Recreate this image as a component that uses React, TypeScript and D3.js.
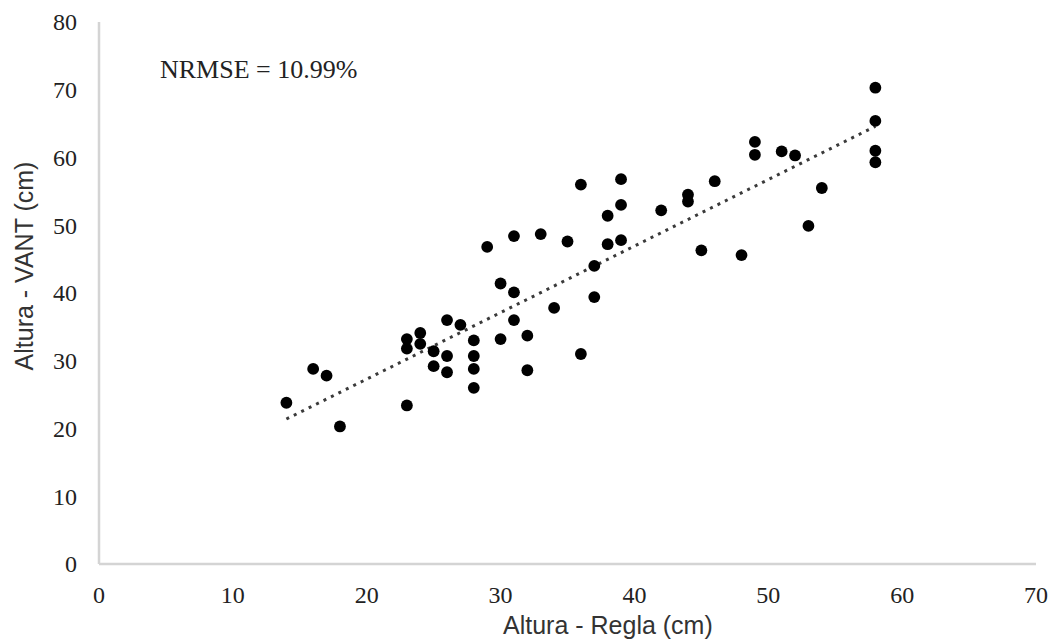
import { useEffect, useRef } from "react";
import * as d3 from "d3";

// Altura - Regla (cm)
const reglaCm: number[] = [
  14, 16, 17, 18, 23, 23, 23, 24, 24, 25, 25, 26, 26, 26, 27, 28, 28, 28, 28,
  29, 30, 30, 31, 31, 31, 32, 32, 33, 34, 35, 36, 36, 37, 37, 38, 38, 39, 39,
  39, 42, 44, 44, 45, 46, 48, 49, 49, 51, 52, 53, 54, 58, 58, 58, 58,
];
// Altura - VANT (cm)
const vantCm: number[] = [
  23.8, 28.8, 27.8, 20.3, 23.4, 33.2, 31.8, 34.1, 32.5, 31.4, 29.2, 36.0, 30.7,
  28.3, 35.3, 33.0, 30.7, 28.8, 26.0, 46.8, 41.4, 33.2, 48.4, 40.1, 36.0, 33.7,
  28.6, 48.7, 37.8, 47.6, 56.0, 31.0, 44.0, 39.4, 51.4, 47.2, 56.8, 53.0, 47.8,
  52.2, 54.5, 53.5, 46.3, 56.5, 45.6, 62.3, 60.4, 60.9, 60.3, 49.9, 55.5, 70.3,
  65.4, 61.0, 59.3,
];
// linear trend line at its two ends
const trendX: number[] = [14, 58];
const trendY: number[] = [21.4, 64.6];
const xTicks: number[] = [0, 10, 20, 30, 40, 50, 60, 70];
const yTicks: number[] = [0, 10, 20, 30, 40, 50, 60, 70, 80];
const annotation = "NRMSE = 10.99%";

const W = 1055;
const H = 643;

export default function App() {
  const ref = useRef<SVGSVGElement>(null);

  useEffect(() => {
    const svg = d3.select(ref.current);
    svg.selectAll("*").remove();
    const margin = { top: 22, right: 19, bottom: 79, left: 99 };
    const w = W - margin.left - margin.right;
    const h = H - margin.top - margin.bottom;
    const serif = "'Liberation Serif', 'Times New Roman', serif";
    const sans = "'Liberation Sans', Arial, sans-serif";

    const x = d3.scaleLinear().domain([0, 70]).range([0, w]);
    const y = d3.scaleLinear().domain([0, 80]).range([h, 0]);

    const g = svg
      .append("g")
      .attr("transform", `translate(${margin.left},${margin.top})`);

    // axis lines (no tick marks in the original)
    g.append("line")
      .attr("x1", 0)
      .attr("x2", 0)
      .attr("y1", y(80))
      .attr("y2", y(0))
      .attr("stroke", "#d4d4d4")
      .attr("stroke-width", 2.5);
    g.append("line")
      .attr("x1", 0)
      .attr("x2", x(70))
      .attr("y1", y(0))
      .attr("y2", y(0))
      .attr("stroke", "#d4d4d4")
      .attr("stroke-width", 2.5);

    g.selectAll("text.ytick")
      .data(yTicks)
      .join("text")
      .attr("class", "ytick")
      .attr("x", -22)
      .attr("y", (d) => y(d))
      .attr("dy", "0.35em")
      .attr("text-anchor", "end")
      .style("font-family", serif)
      .style("font-size", "24px")
      .attr("fill", "#222")
      .text((d) => d);

    g.selectAll("text.xtick")
      .data(xTicks)
      .join("text")
      .attr("class", "xtick")
      .attr("x", (d) => x(d))
      .attr("y", h + 39)
      .attr("text-anchor", "middle")
      .style("font-family", serif)
      .style("font-size", "24px")
      .attr("fill", "#222")
      .text((d) => d);

    g.append("line")
      .attr("x1", x(trendX[0]))
      .attr("y1", y(trendY[0]))
      .attr("x2", x(trendX[1]))
      .attr("y2", y(trendY[1]))
      .attr("stroke", "#3a3a3a")
      .attr("stroke-width", 3)
      .attr("stroke-dasharray", "3 5.3");

    const pts = reglaCm.map((v, i) => [v, vantCm[i]] as [number, number]);
    g.selectAll("circle.pt")
      .data(pts)
      .join("circle")
      .attr("class", "pt")
      .attr("cx", (d) => x(d[0]))
      .attr("cy", (d) => y(d[1]))
      .attr("r", 5.9)
      .attr("fill", "#000");

    g.append("text")
      .attr("x", 61)
      .attr("y", 56)
      .style("font-family", serif)
      .style("font-size", "26px")
      .attr("fill", "#222")
      .text(annotation);

    svg
      .append("text")
      .attr("x", 503)
      .attr("y", 634)
      .attr("text-anchor", "start")
      .style("font-family", sans)
      .style("font-size", "25px")
      .attr("fill", "#333")
      .text("Altura - Regla (cm)");

    svg
      .append("text")
      .attr("transform", `translate(33,266) rotate(-90)`)
      .attr("text-anchor", "middle")
      .style("font-family", sans)
      .style("font-size", "25px")
      .attr("fill", "#333")
      .text("Altura - VANT (cm)");
  }, []);

  return (
    <svg
      ref={ref}
      width={W}
      height={H}
      style={{ position: "absolute", left: 0, top: 0, background: "#fff" }}
    ></svg>
  );
}
